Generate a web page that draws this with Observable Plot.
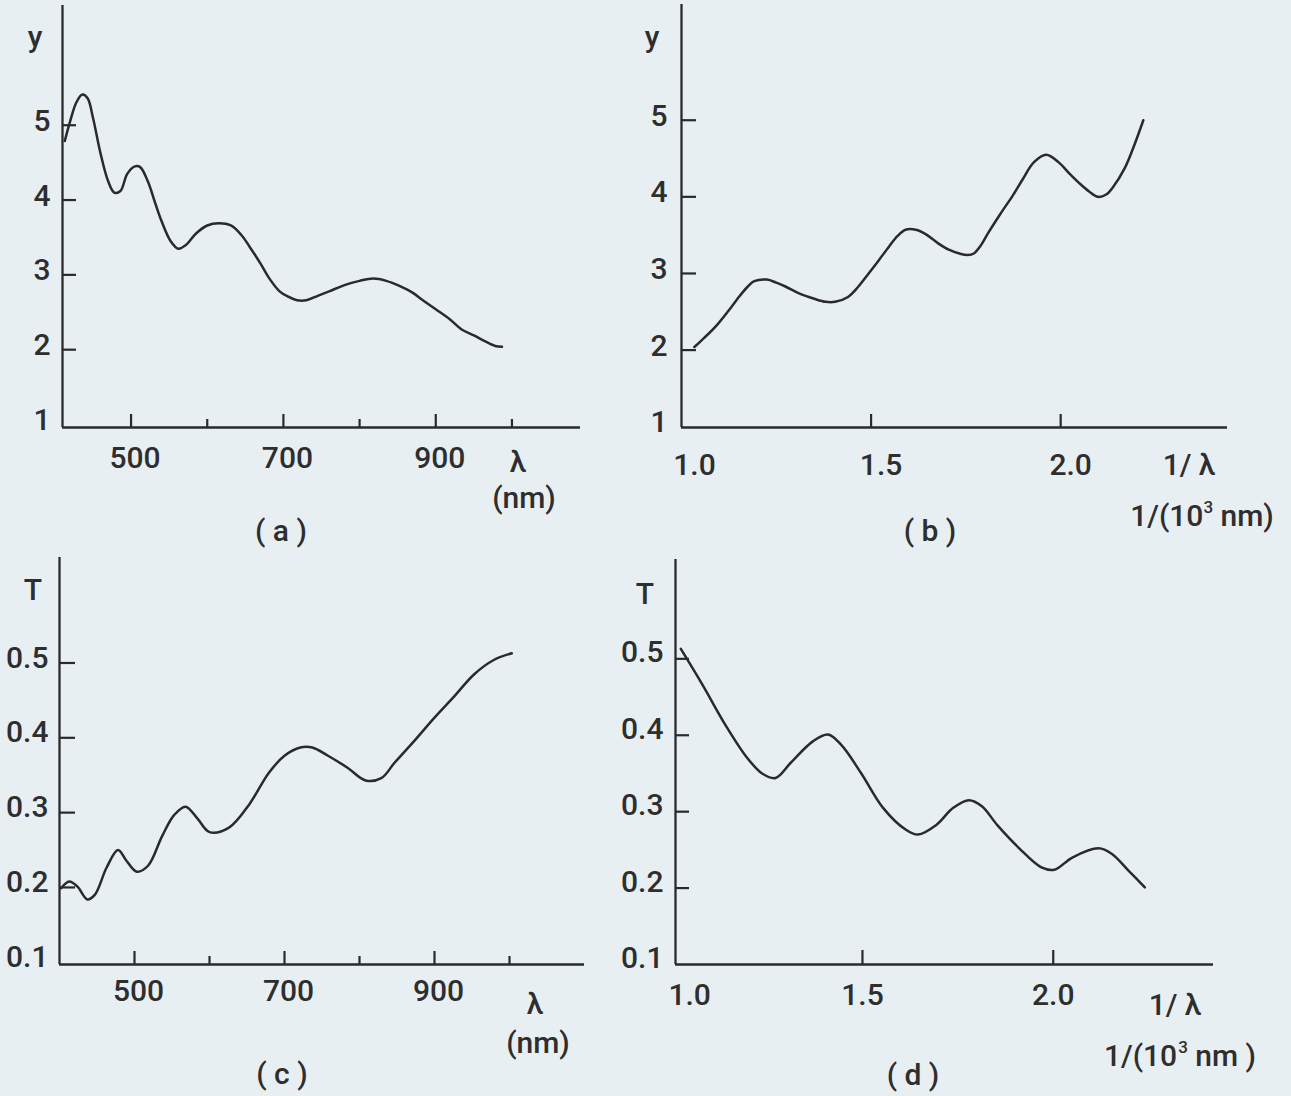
<!DOCTYPE html>
<html>
<head>
<meta charset="utf-8">
<script src="https://cdn.jsdelivr.net/npm/d3@7"></script>
<script src="https://cdn.jsdelivr.net/npm/@observablehq/plot@0.6"></script>
<style>
html,body{margin:0;padding:0;background:#e8eff3;}
#page{position:relative;width:1291px;height:1096px;overflow:hidden;background:#e8eff3;}
#page svg{position:absolute;left:0;top:0;background:transparent;overflow:visible;font-weight:500;}
</style>
</head>
<body>
<div id="page"></div>
<script>
// ---- Data ----
// (a) y vs wavelength (nm)
const lambdaA = [413,420,428,436,443,450,460,470,478,486,495,505,512,522,532,540,552,562,572,585,600,615,631,645,656,670,681,695,706,718,730,745,760,782,800,818,835,853,870,883,900,918,934,950,965,978,987];
const yA = [4.79,5.05,5.30,5.41,5.36,5.10,4.62,4.25,4.10,4.12,4.35,4.45,4.44,4.25,3.95,3.72,3.45,3.35,3.40,3.55,3.66,3.69,3.66,3.53,3.37,3.15,2.96,2.78,2.71,2.66,2.66,2.72,2.78,2.87,2.92,2.95,2.92,2.85,2.76,2.66,2.54,2.41,2.27,2.19,2.11,2.05,2.04];
// (b) y vs 1/lambda (1/(10^3 nm))
const invB = [1.034,1.06,1.094,1.125,1.154,1.175,1.192,1.225,1.25,1.274,1.31,1.35,1.38,1.405,1.438,1.465,1.492,1.52,1.547,1.57,1.591,1.618,1.645,1.678,1.705,1.733,1.755,1.771,1.79,1.809,1.84,1.874,1.90,1.929,1.962,1.995,2.02,2.049,2.075,2.098,2.12,2.137,2.169,2.19,2.218];
const yB = [2.04,2.16,2.33,2.52,2.71,2.83,2.90,2.92,2.88,2.83,2.74,2.67,2.63,2.63,2.69,2.82,2.99,3.17,3.35,3.49,3.57,3.57,3.51,3.39,3.31,3.26,3.24,3.26,3.37,3.53,3.77,4.02,4.23,4.45,4.55,4.45,4.32,4.18,4.07,4.00,4.03,4.12,4.375,4.62,5.00];
// (c) T vs wavelength (nm)
const lambdaC = [402,413,424,437,447,463,478,489,503,518,537,553,568,584,600,626,653,679,700,721,737,758,784,808,829,847,874,900,926,953,979,1003];
const tC = [0.199,0.208,0.201,0.184,0.190,0.227,0.250,0.236,0.221,0.229,0.269,0.297,0.308,0.292,0.274,0.280,0.311,0.353,0.376,0.387,0.387,0.376,0.360,0.343,0.346,0.367,0.397,0.427,0.455,0.485,0.504,0.513];
// (d) T vs 1/lambda
const invD = [1.024,1.082,1.139,1.197,1.237,1.272,1.312,1.370,1.410,1.445,1.497,1.554,1.612,1.646,1.692,1.738,1.779,1.813,1.854,1.911,1.969,2.003,2.050,2.119,2.153,2.199,2.240];
const tD = [0.513,0.465,0.415,0.371,0.350,0.344,0.364,0.392,0.401,0.387,0.350,0.305,0.277,0.270,0.282,0.305,0.315,0.307,0.282,0.252,0.227,0.224,0.240,0.252,0.245,0.222,0.201];

// tick values
const yTicksY = [1,2,3,4,5];
const yTickMarksY = [2,3,4,5];
const yTicksT = [0.1,0.2,0.3,0.4,0.5];
const yTickMarksT = [0.2,0.3,0.4,0.5];
const xLabelsNm = [500,700,900];
const xMajorNm = [500,700,900];
const xMinorNm = [600,800,1000];
const xLabelsInv = [1.5,2.0];
const xFirstInv = [1.0];
const xMajorInv = [1.5,2.0];

const W = 1291, H = 1096;
const INK = "#2a2a2a";
const TXT = "#2e2e2e";
const FONT = "Roboto, 'Liberation Sans', Arial, sans-serif";
const FS = 30;

function panel(o) {
  const [l, t, r, b] = o.frame;
  const fw = r - l, fh = b - t;
  const marks = [
    Plot.ruleX([o.xDomain[0]], {stroke: INK, strokeWidth: 2.3}),
    Plot.ruleY([o.yDomain[0]], {stroke: INK, strokeWidth: 2.3}),
    Plot.tickY(o.yTickMarks, {y: d => d, insetRight: fw - o.yTickLen, stroke: INK, strokeWidth: 2.2}),
    Plot.tickX(o.xMajor, {x: d => d, insetTop: fh - o.majorLen, stroke: INK, strokeWidth: 2.2}),
    Plot.axisY({ticks: o.yLabels, tickSize: 0, tickPadding: o.yPad, dy: o.yDy, tickFormat: o.yFmt, fontSize: FS, fill: TXT, label: null}),
    Plot.axisX({ticks: o.xLabels, tickSize: 0, tickPadding: o.xPad, dx: o.xDx, tickFormat: o.xFmt, fontSize: FS, fill: TXT, label: null}),
    Plot.line(o.xs, {x: o.xs, y: o.ys, curve: "catmull-rom", stroke: INK, strokeWidth: 2.5})
  ];
  if (o.xMinor) marks.push(Plot.tickX(o.xMinor, {x: d => d, insetTop: fh - o.minorLen, stroke: INK, strokeWidth: 2.2}));
  if (o.xFirst) marks.push(Plot.axisX({ticks: o.xFirst, tickSize: 0, tickPadding: o.xPad, dx: o.xFirstDx, tickFormat: o.xFmt, fontSize: FS, fill: TXT, label: null}));
  return Plot.plot({
    width: W, height: H,
    marginLeft: l, marginTop: t, marginRight: W - r, marginBottom: H - b,
    x: {domain: o.xDomain},
    y: {domain: o.yDomain},
    style: {background: "transparent", fontFamily: FONT, fontSize: FS + "px", color: TXT, overflow: "visible"},
    marks
  });
}

const page = document.getElementById("page");
const f1 = d => d.toFixed(1);

page.appendChild(panel({
  frame: [62, 5, 580, 427], xDomain: [410, 1090], yDomain: [0.96, 6.6],
  xs: lambdaA, ys: yA,
  yLabels: yTicksY, yTickMarks: yTickMarksY, yTickLen: 14, yPad: 12, yDy: -4, yFmt: d => String(d),
  xLabels: xLabelsNm, xMajor: xMajorNm, xMinor: xMinorNm, majorLen: 13, minorLen: 8, xPad: 19, xDx: 4, xFmt: d => String(d)
}));
page.appendChild(panel({
  frame: [681, 4, 1227, 427], xDomain: [1.0, 2.44], yDomain: [0.99, 6.51],
  xs: invB, ys: yB,
  yLabels: yTicksY, yTickMarks: yTickMarksY, yTickLen: 15, yPad: 14, yDy: -4, yFmt: d => String(d),
  xLabels: xLabelsInv, xMajor: xMajorInv, majorLen: 13, xPad: 26, xDx: 10, xFmt: f1,
  xFirst: xFirstInv, xFirstDx: 13
}));
page.appendChild(panel({
  frame: [59, 557, 584, 964], xDomain: [400, 1100], yDomain: [0.097, 0.641],
  xs: lambdaC, ys: tC,
  yLabels: yTicksT, yTickMarks: yTickMarksT, yTickLen: 16, yPad: 11, yDy: -5, yFmt: f1,
  xLabels: xLabelsNm, xMajor: xMajorNm, xMinor: xMinorNm, majorLen: 13, minorLen: 8, xPad: 15, xDx: 4, xFmt: d => String(d)
}));
page.appendChild(panel({
  frame: [675, 559, 1213, 964], xDomain: [1.01, 2.42], yDomain: [0.1, 0.63],
  xs: invD, ys: tD,
  yLabels: yTicksT, yTickMarks: yTickMarksT, yTickLen: 14, yPad: 12, yDy: -6, yFmt: f1,
  xLabels: xLabelsInv, xMajor: xMajorInv, majorLen: 14, xPad: 19, xDx: 0, xFmt: f1,
  xFirst: xFirstInv, xFirstDx: 18
}));

// ---- Axis titles and panel letters (text) ----
const labels = [
  {t: "y", x: 35, y: 47},
  {t: "λ", x: 518, y: 472},
  {t: "(nm)", x: 524, y: 508},
  {t: "( a )", x: 281, y: 541},
  {t: "y", x: 652, y: 47},
  {t: "1/ λ", x: 1189, y: 475},
  {t: "1/(10|3| nm)", x: 1202, y: 526, supDx: 0},
  {t: "( b )", x: 930, y: 541},
  {t: "T", x: 33, y: 600},
  {t: "λ", x: 535, y: 1014},
  {t: "(nm)", x: 538, y: 1053},
  {t: "( c )", x: 282, y: 1084},
  {t: "T", x: 645, y: 604},
  {t: "1/ λ", x: 1175, y: 1015},
  {t: "1/(10|3| nm )", x: 1180, y: 1066, supDx: 1},
  {t: "( d )", x: 913, y: 1085}
];
const svg = d3.select(page).append("svg")
  .attr("width", W).attr("height", H)
  .style("font-family", FONT).style("font-size", FS + "px");
for (const L of labels) {
  const txt = svg.append("text").attr("x", L.x).attr("y", L.y)
    .attr("text-anchor", "middle").attr("fill", TXT);
  const parts = L.t.split("|");
  if (parts.length === 1) {
    txt.text(L.t);
  } else {
    txt.append("tspan").text(parts[0]);
    txt.append("tspan").text(parts[1]).attr("font-size", 17).attr("dy", -13).attr("dx", L.supDx);
    txt.append("tspan").text(parts[2]).attr("dy", 13);
  }
}
</script>
</body>
</html>
